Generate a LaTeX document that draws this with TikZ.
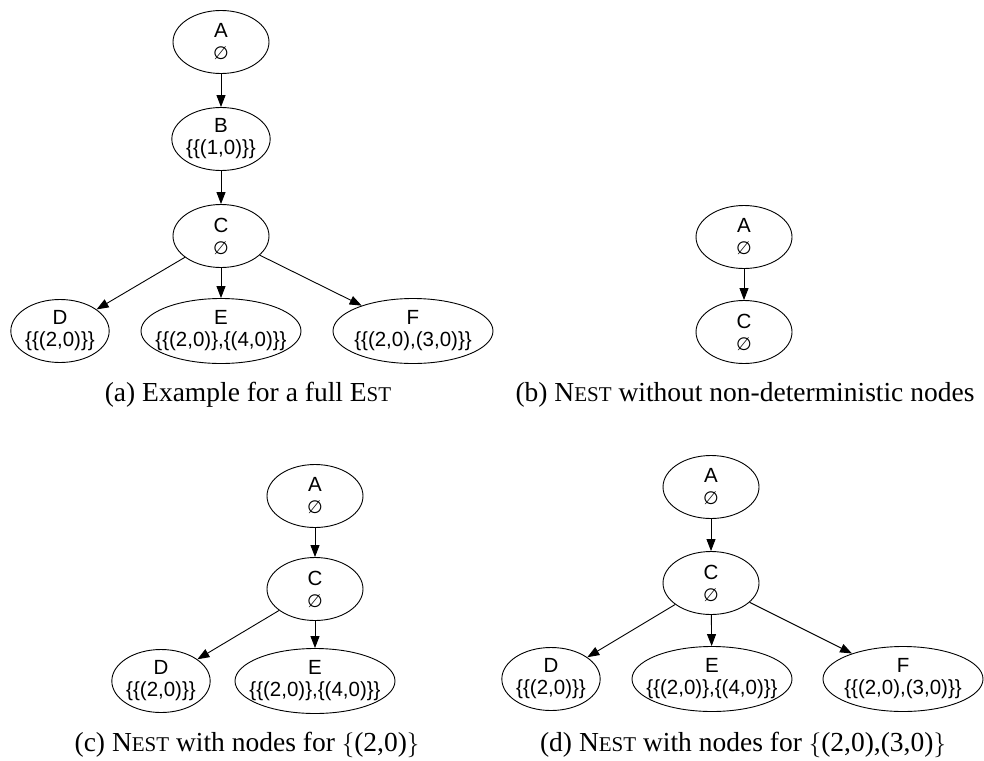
\documentclass[tikz,border=0pt]{standalone}
\usepackage{fontspec}
\setmainfont{Liberation Serif}
\setsansfont{Liberation Sans}
\newfontfamily\symfont{DejaVu Sans}
\usetikzlibrary{shapes.geometric,arrows.meta}
\newcommand{\estname}{E{\fontsize{21}{21}\selectfont ST}}
\newcommand{\nestname}{N{\fontsize{21}{21}\selectfont EST}}
\newcommand{\nullset}{{\symfont\fontsize{18}{22}\selectfont ∅}}
\tikzset{
    est node/.style={
        ellipse,
        draw,
        line width=0.9pt,
        minimum width=96pt,
        minimum height=63pt,
        inner sep=0pt,
        align=center,
        font=\sffamily\fontsize{20.5}{22}\selectfont
    },
    est wide/.style={est node, minimum width=160pt, minimum height=65pt, inner xsep=-10pt},
    est edge/.style={-{Triangle[length=12pt,width=9pt]}, line width=0.9pt},
    est caption/.style={font=\fontsize{27.5}{30}\selectfont, anchor=base, inner sep=0pt}
}
\begin{document}
\begin{tikzpicture}[x=1pt,y=-1pt]
    \useasboundingbox (0,0) rectangle (984,760);

    % (a) full tree
    \node[est node] (a-A) at (221,42) {A\\\nullset};
    \node[est node] (a-B) at (221,139) {B\\\{\{(1,0)\}\}};
    \node[est node] (a-C) at (221,236) {C\\\nullset};
    \node[est node] (a-D) at (60,331) {D\\\{\{(2,0)\}\}};
    \node[est wide] (a-E) at (221,331) {E\\\{\{(2,0)\},\{(4,0)\}\}};
    \node[est wide] (a-F) at (413,331) {F\\\{\{(2,0),(3,0)\}\}};
    \draw[est edge] (a-A) -- (a-B);
    \draw[est edge] (a-B) -- (a-C);
    \draw[est edge] (a-C) -- (a-D);
    \draw[est edge] (a-C) -- (a-E);
    \draw[est edge] (a-C) -- (a-F);
    \node[est caption] (a-cap) at (248,401) {(a) Example for a full \estname};

    % (b) deterministic only
    \node[est node] (b-A) at (744,237) {A\\\nullset};
    \node[est node] (b-C) at (744,332) {C\\\nullset};
    \draw[est edge] (b-A) -- (b-C);
    \node[est caption] (b-cap) at (745,401) {(b) \nestname{} without non-deterministic nodes};

    % (c) nodes for {(2,0)}
    \node[est node] (c-A) at (315,496) {A\\\nullset};
    \node[est node] (c-C) at (315,589) {C\\\nullset};
    \node[est node] (c-D) at (161,681) {D\\\{\{(2,0)\}\}};
    \node[est wide] (c-E) at (315,681) {E\\\{\{(2,0)\},\{(4,0)\}\}};
    \draw[est edge] (c-A) -- (c-C);
    \draw[est edge] (c-C) -- (c-D);
    \draw[est edge] (c-C) -- (c-E);
    \node[est caption] (c-cap) at (247,751) {(c) \nestname{} with nodes for $\{$(2,0)$\}$};

    % (d) nodes for {(2,0),(3,0)}
    \node[est node] (d-A) at (711,487) {A\\\nullset};
    \node[est node] (d-C) at (711,583) {C\\\nullset};
    \node[est node] (d-D) at (551,679) {D\\\{\{(2,0)\}\}};
    \node[est wide] (d-E) at (712,679) {E\\\{\{(2,0)\},\{(4,0)\}\}};
    \node[est wide] (d-F) at (903,679) {F\\\{\{(2,0),(3,0)\}\}};
    \draw[est edge] (d-A) -- (d-C);
    \draw[est edge] (d-C) -- (d-D);
    \draw[est edge] (d-C) -- (d-E);
    \draw[est edge] (d-C) -- (d-F);
    \node[est caption] (d-cap) at (743,751) {(d) \nestname{} with nodes for $\{$(2,0),(3,0)$\}$};
\end{tikzpicture}
\end{document}
